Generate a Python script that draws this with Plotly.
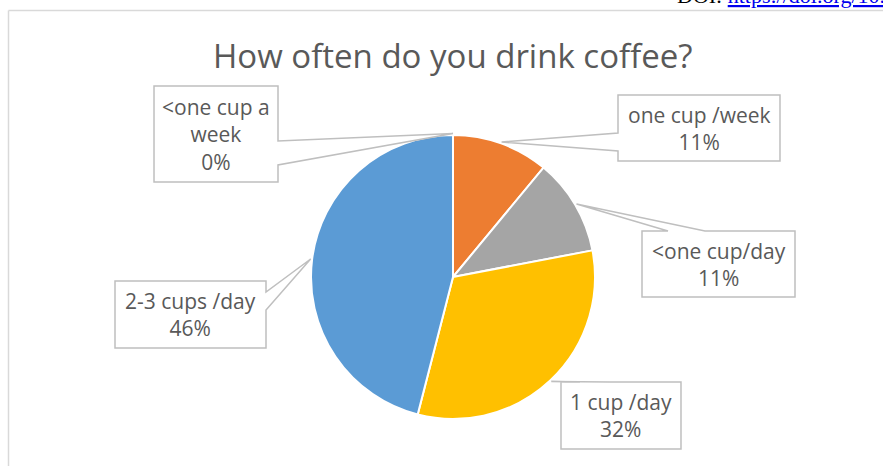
import numpy as np
import plotly.graph_objects as go

# Survey answers
categories = ["<one cup a week", "one cup /week", "<one cup/day", "1 cup /day", "2-3 cups /day"]
label_text = ["&lt;one cup a<br>week", "one cup /week", "&lt;one cup/day", "1 cup /day", "2-3 cups /day"]
shares = [0, 11, 11, 32, 46]
colors = ["#4472C4", "#ED7D31", "#A5A5A5", "#FFC000", "#5B9BD5"]

W, H = 883, 466
TEXT = "#595959"
EDGE = "#BFBFBF"


def px(x):
    return x / W


def py(y):
    return 1 - y / H


# Pie placement in pixels
CX, CY, R = 453, 277, 142

# Callout boxes: (x0, y0, x1, y1), side carrying the pointer, pointer base span
boxes = [
    ((154, 86, 278, 182), "right", (141, 165)),
    ((618, 95, 780, 161), "left", (133, 151)),
    ((642, 231, 795, 297), "top", (668, 705)),
    ((561, 382, 681, 449), "top", (580, 610)),
    ((115, 281, 266, 348), "right", (292, 310)),
]

fig = go.Figure()
fig.add_trace(go.Pie(
    labels=categories,
    values=shares,
    sort=False,
    direction="clockwise",
    rotation=0,
    marker=dict(colors=colors, line=dict(color="white", width=2)),
    textinfo="none",
    hoverinfo="skip",
    showlegend=False,
    domain=dict(x=[px(CX - R), px(CX + R)], y=[py(CY + R), py(CY - R)]),
))

# Pointer tips sit on the rim at each slice's mid angle
vals = np.array(shares, dtype=float)
before = np.concatenate([[0], np.cumsum(vals)[:-1]])
mid = (before + vals / 2) / vals.sum() * 2 * np.pi
tip_r = R + 1.5
tips = [(CX + tip_r * np.sin(a), CY - tip_r * np.cos(a)) for a in mid]


def callout_path(box, side, span, tip):
    x0, y0, x1, y1 = box
    a, b = span
    tx, ty = tip
    if side == "right":
        pts = [(x0, y0), (x1, y0), (x1, a), (tx, ty), (x1, b), (x1, y1), (x0, y1)]
    elif side == "left":
        pts = [(x0, y0), (x1, y0), (x1, y1), (x0, y1), (x0, b), (tx, ty), (x0, a)]
    else:  # top
        pts = [(x0, y0), (a, y0), (tx, ty), (b, y0), (x1, y0), (x1, y1), (x0, y1)]
    return "M " + " L ".join(f"{px(x):.5f},{py(y):.5f}" for x, y in pts) + " Z"


shapes = []
annotations = []
for i, (box, side, span) in enumerate(boxes):
    shapes.append(dict(
        type="path", xref="paper", yref="paper",
        path=callout_path(box, side, span, tips[i]),
        fillcolor="white", line=dict(color=EDGE, width=1.5), layer="above",
    ))
    x0, y0, x1, y1 = box
    annotations.append(dict(
        xref="paper", yref="paper",
        x=px((x0 + x1) / 2), y=py((y0 + y1) / 2),
        xanchor="center", yanchor="middle",
        text=f"{label_text[i]}<br>{shares[i]}%",
        showarrow=False,
        font=dict(family="Open Sans", size=21, color=TEXT),
    ))

# Chart frame (top and left edges visible)
shapes.append(dict(type="line", xref="paper", yref="paper",
                   x0=px(8.5), y0=py(10.5), x1=px(900), y1=py(10.5),
                   line=dict(color="#D9D9D9", width=1.5)))
shapes.append(dict(type="line", xref="paper", yref="paper",
                   x0=px(8.5), y0=py(10.5), x1=px(8.5), y1=py(480),
                   line=dict(color="#D9D9D9", width=1.5)))

# Title
annotations.append(dict(
    xref="paper", yref="paper", x=px(453), y=py(55),
    xanchor="center", yanchor="middle",
    text="How often do you drink coffee?", showarrow=False,
    font=dict(family="Open Sans", size=33, color=TEXT),
))

# Page header line above the chart
annotations.append(dict(
    xref="paper", yref="paper", x=px(675), y=py(10),
    xanchor="left", yanchor="bottom",
    text="DOI: <span style='color:#0000EE'><u>https://doi.org/10.</u></span>",
    showarrow=False,
    font=dict(family="Liberation Serif", size=22, color="black"),
))

fig.update_layout(
    width=W, height=H,
    margin=dict(l=0, r=0, t=0, b=0),
    paper_bgcolor="white", plot_bgcolor="white",
    shapes=shapes, annotations=annotations,
)

fig.write_html("out.html")
